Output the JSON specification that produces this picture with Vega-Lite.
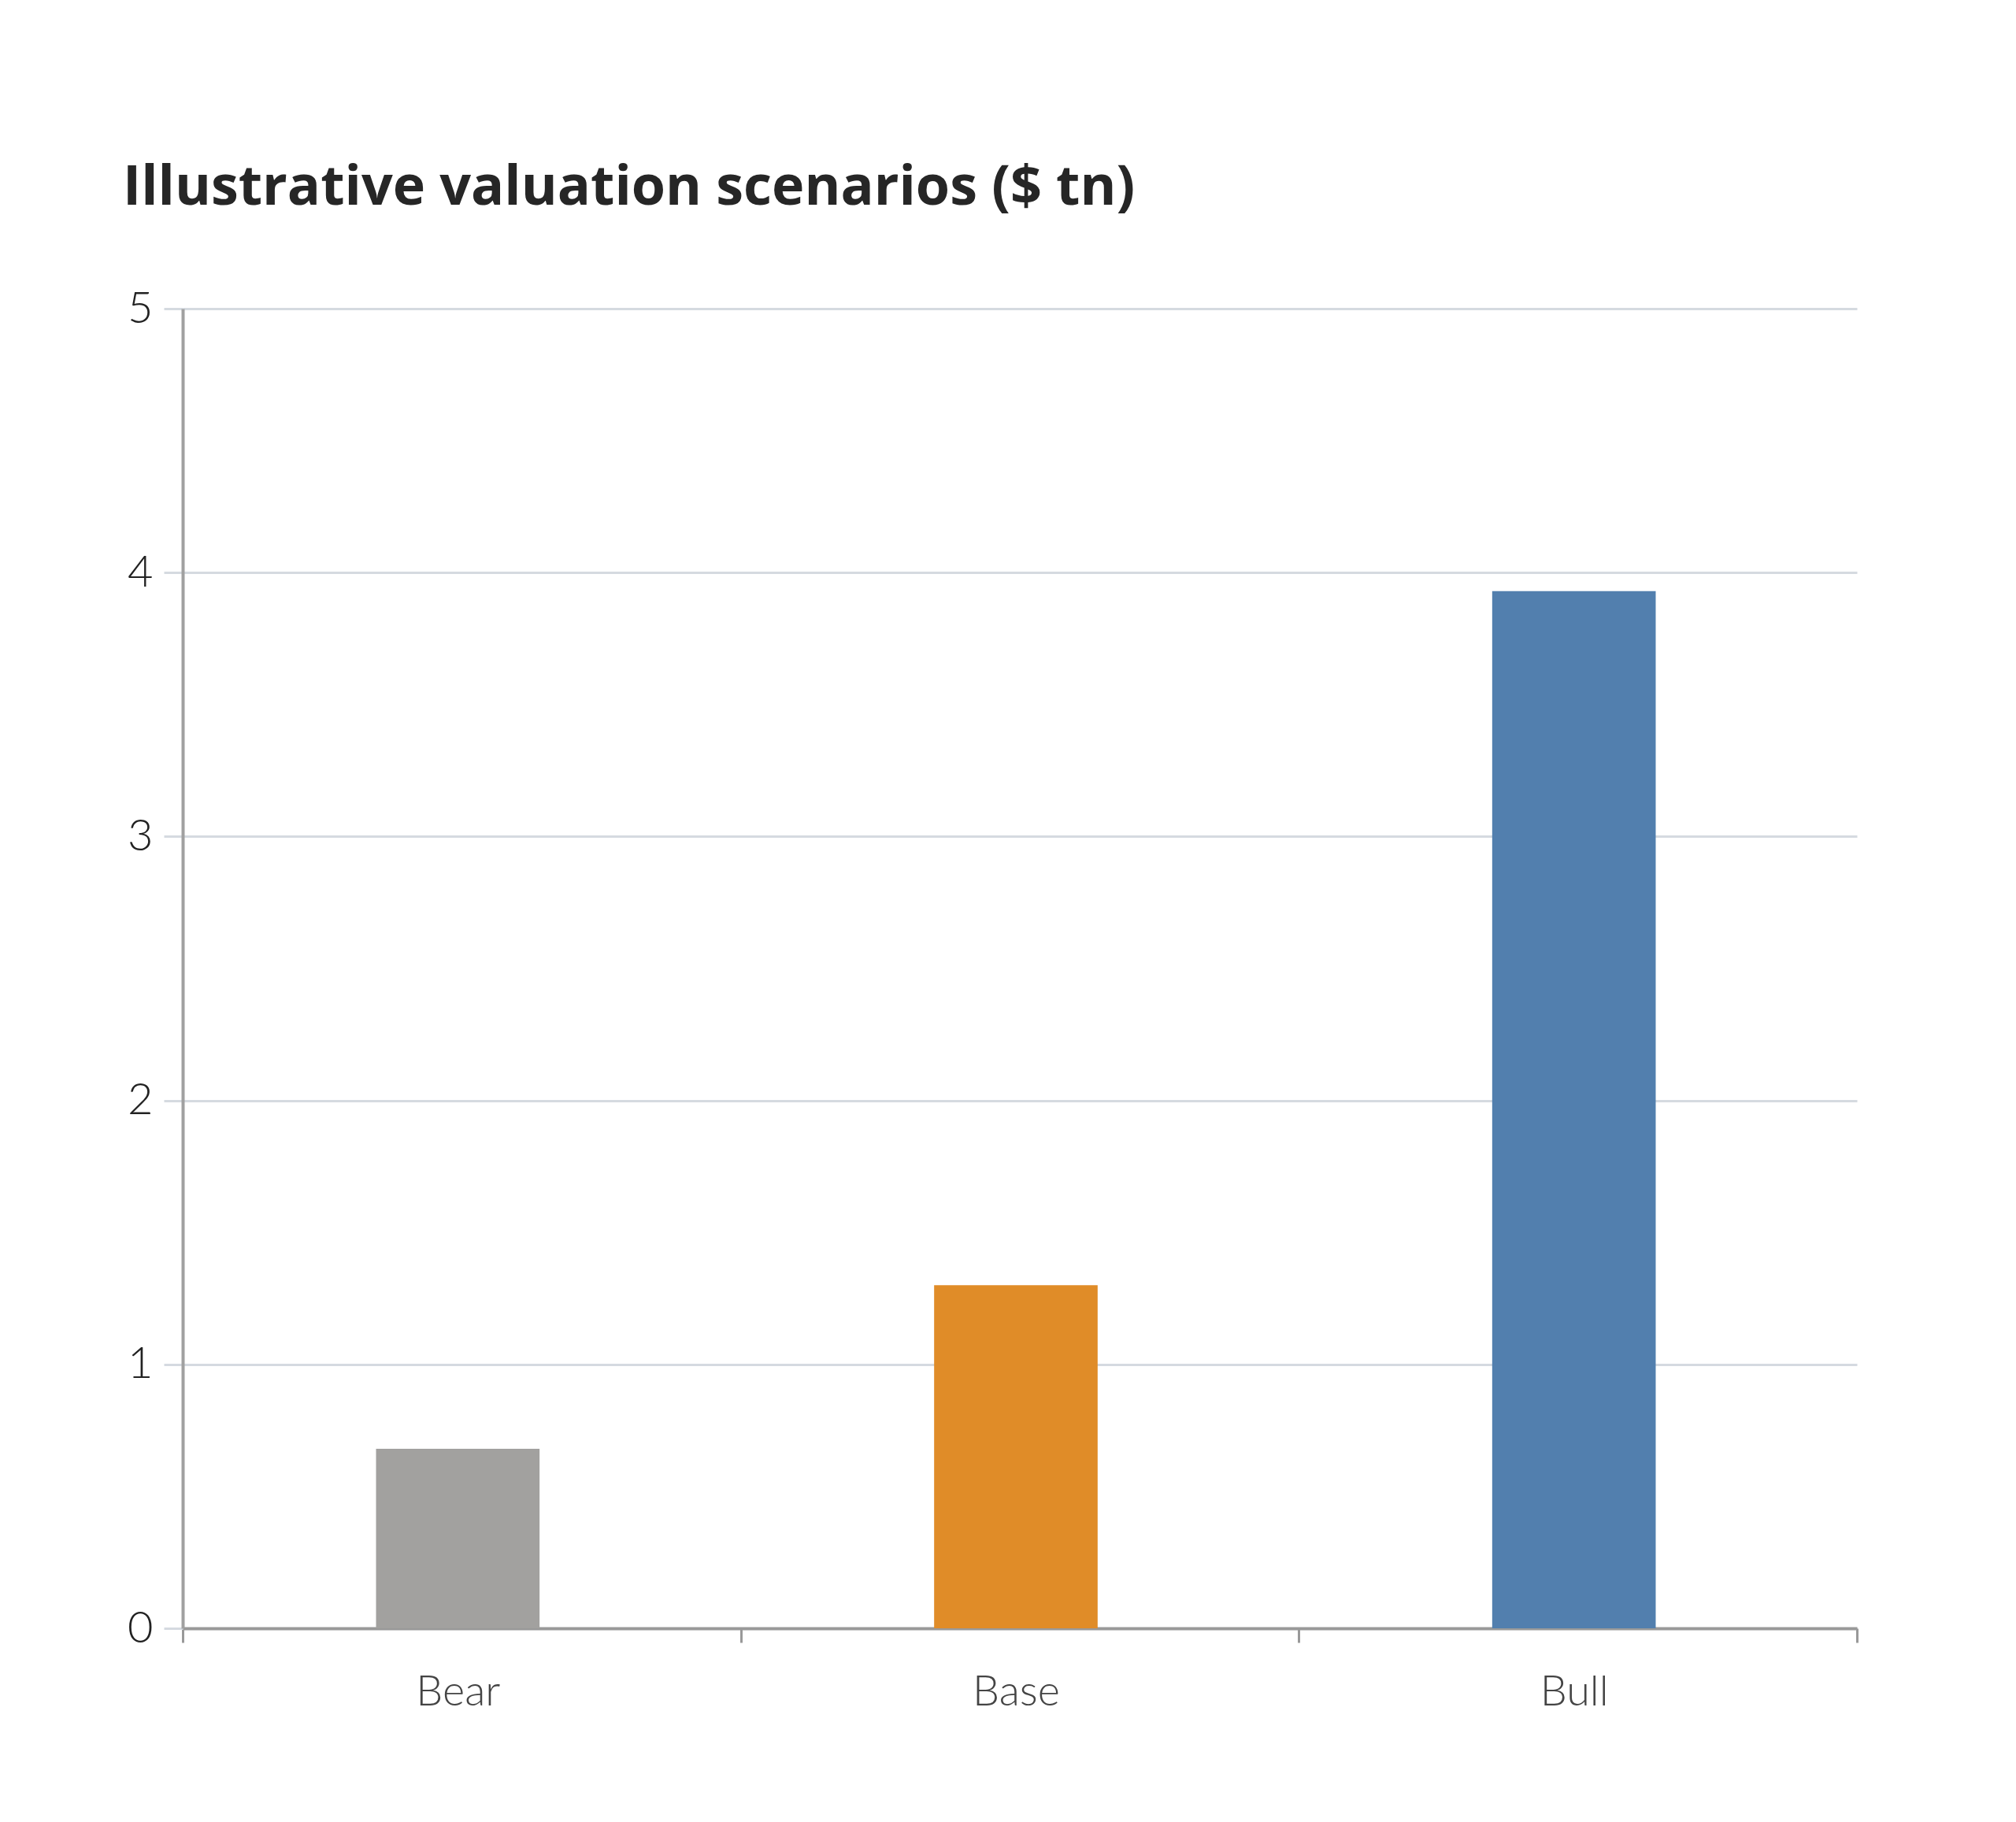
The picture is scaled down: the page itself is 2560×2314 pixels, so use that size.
{
  "$schema": "https://vega.github.io/schema/vega-lite/v6.json",
  "description": "Illustrative valuation scenarios in $ trillions: bear, base and bull.",
  "autosize": {"type": "none"},
  "padding": {"left": 232, "top": 392, "right": 202, "bottom": 246},
  "width": 2126,
  "height": 1676,
  "background": "white",
  "title": {
    "text": "Illustrative valuation scenarios ($ tn)",
    "anchor": "start",
    "frame": "group",
    "font": "Open Sans",
    "fontWeight": "bold",
    "fontSize": 70,
    "color": "#262626",
    "dx": -76,
    "offset": 89
  },
  "data": {
    "values": [
      {"scenario": "Bear", "value": 0.68},
      {"scenario": "Base", "value": 1.30},
      {"scenario": "Bull", "value": 3.93}
    ]
  },
  "mark": {"type": "bar", "width": {"band": 0.293}, "xOffset": -5},
  "encoding": {
    "x": {
      "field": "scenario",
      "type": "nominal",
      "sort": ["Bear", "Base", "Bull"],
      "title": null,
      "scale": {"paddingInner": 0, "paddingOuter": 0},
      "axis": {
        "tickBand": "extent",
        "grid": false,
        "domainColor": "#999999",
        "domainWidth": 4,
        "tickColor": "#999999",
        "tickWidth": 3,
        "tickSize": 18,
        "labelAngle": 0,
        "labelFont": "Lato",
        "labelFontWeight": 300,
        "labelFontSize": 54,
        "labelColor": "#444444",
        "labelPadding": 36,
        "labelOffset": -5
      }
    },
    "y": {
      "field": "value",
      "type": "quantitative",
      "title": null,
      "scale": {"domain": [0, 5], "nice": false},
      "axis": {
        "values": [0, 1, 2, 3, 4, 5],
        "grid": true,
        "gridColor": "#d5dae0",
        "gridWidth": 3,
        "domainColor": "#a0a0a0",
        "domainWidth": 4,
        "tickColor": "#d5dae0",
        "tickWidth": 3,
        "tickSize": 24,
        "labelFont": "Lato",
        "labelFontWeight": 300,
        "labelFontSize": 56,
        "labelColor": "#222222",
        "labelPadding": 14
      }
    },
    "color": {
      "field": "scenario",
      "type": "nominal",
      "scale": {
        "domain": ["Bear", "Base", "Bull"],
        "range": ["#a2a19f", "#e08c28", "#527fae"]
      },
      "legend": null
    }
  },
  "config": {"view": {"stroke": null}}
}
